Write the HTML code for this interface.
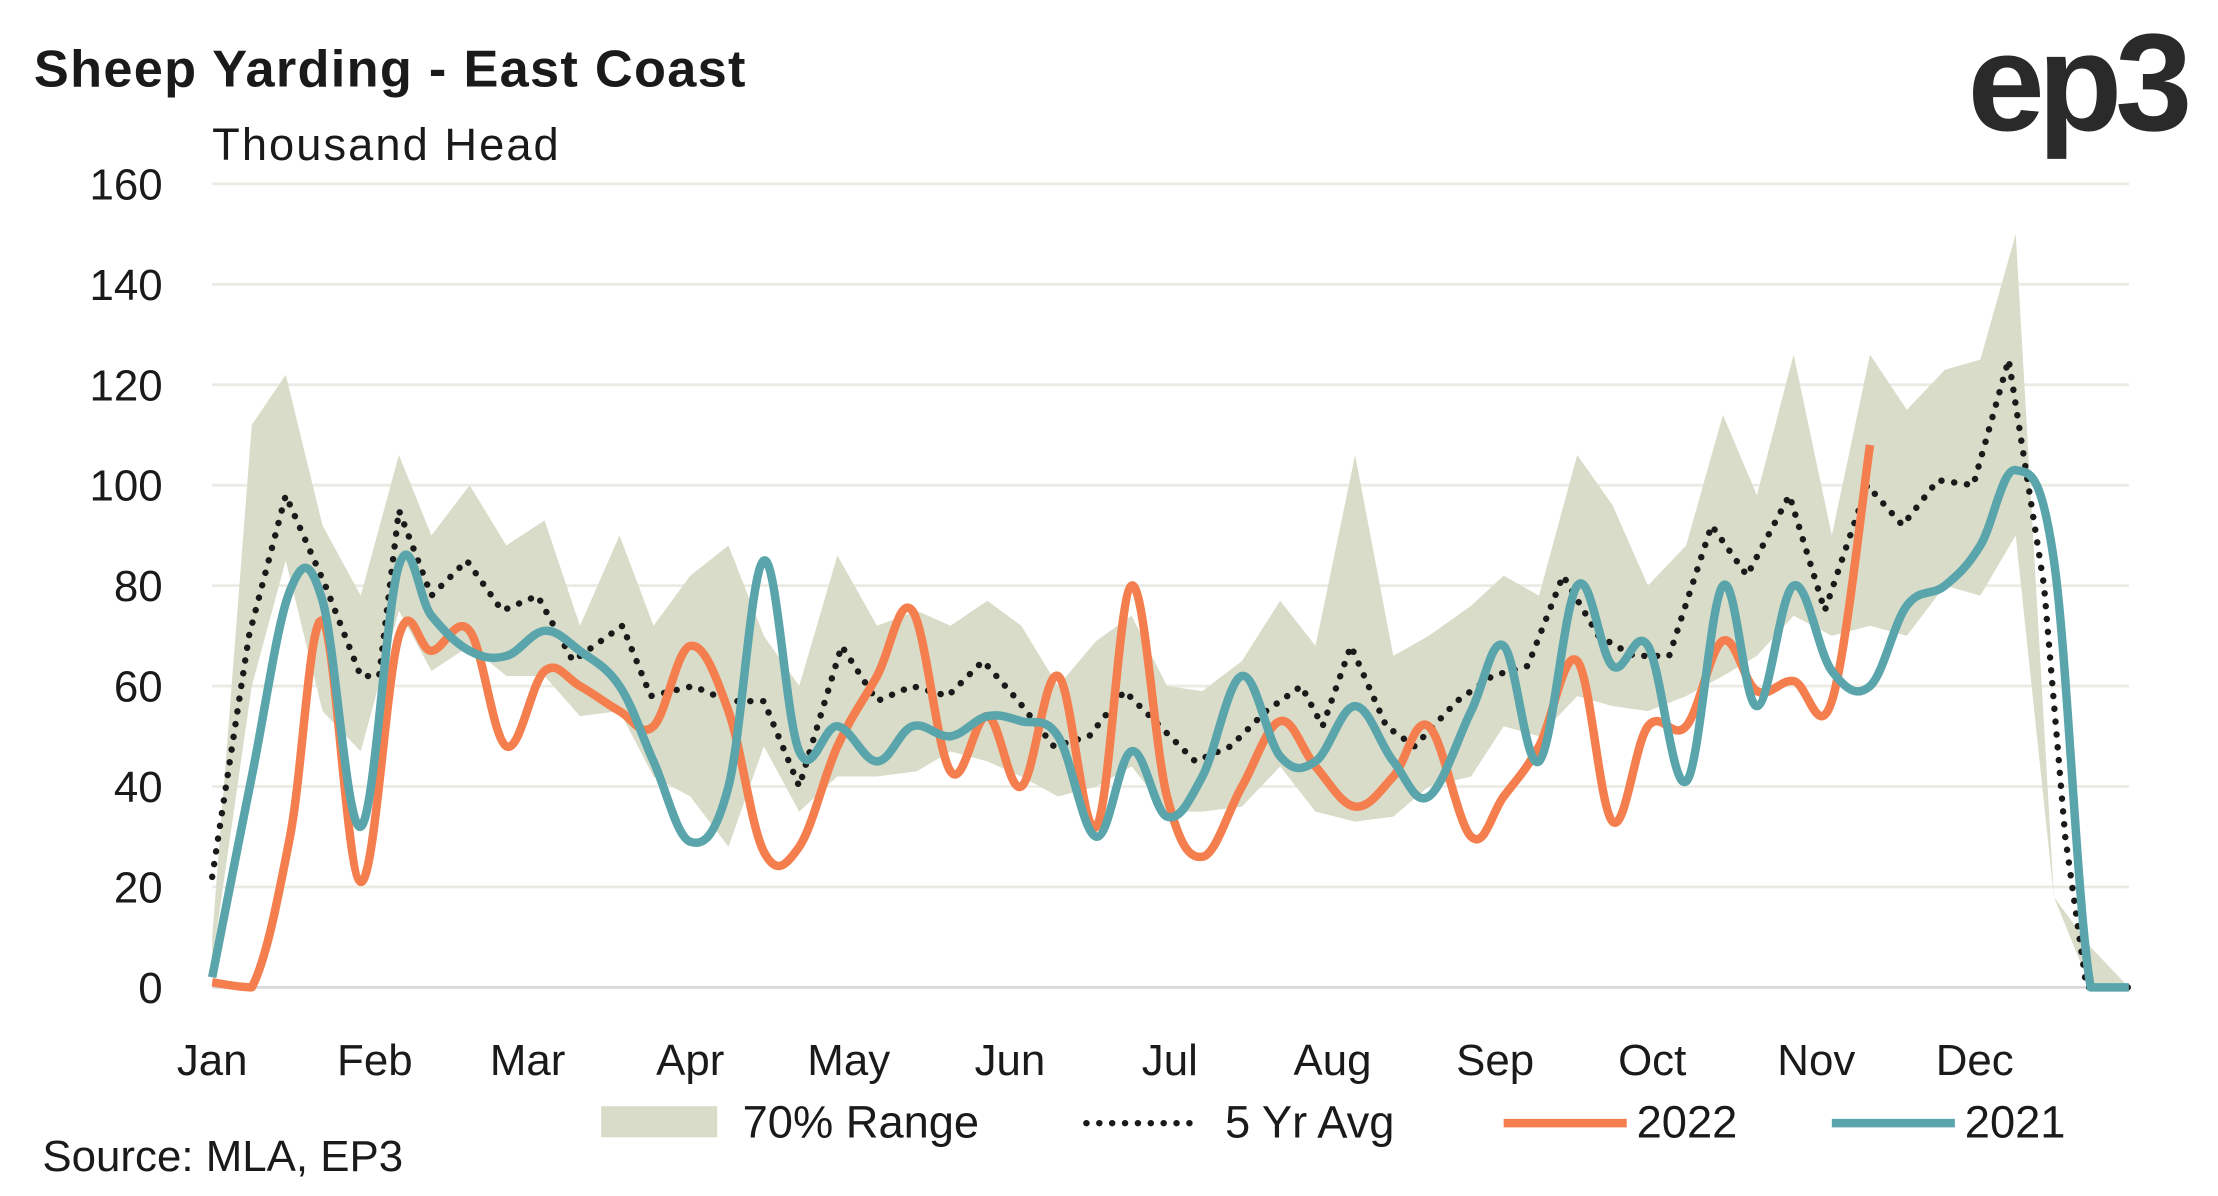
<!DOCTYPE html>
<html><head><meta charset="utf-8"><style>
html,body{margin:0;padding:0;background:#fff;}
svg{display:block;}
text{font-family:"Liberation Sans",sans-serif;fill:#1a1a1a;}
</style></head><body>
<svg id="s" width="2218" height="1196" viewBox="0 0 1568 845.5" preserveAspectRatio="none" xmlns="http://www.w3.org/2000/svg">
<rect width="1568" height="846" fill="#fff"/>
<g id="grid"></g>
<path id="band" fill="#d9dcc8"/>
<line x1="150" y1="698" x2="1505" y2="698" stroke="#d8d8d8" stroke-width="2"/>
<path id="avg" fill="none" stroke="#1a1a1a" stroke-width="4.5" stroke-dasharray="0.1 9" stroke-linecap="round"/>
<path id="o" fill="none" stroke="#f47e4e" stroke-width="6" stroke-linejoin="round"/>
<path id="t" fill="none" stroke="#5aa5ab" stroke-width="6" stroke-linejoin="round"/>
<text x="24" y="61" font-size="37" font-weight="bold" textLength="503">Sheep Yarding - East Coast</text>
<text x="150" y="113" font-size="32" textLength="245">Thousand Head</text>
<text x="1391" y="92" font-size="98" font-weight="bold" letter-spacing="-5" style="fill:#2a2a2a">ep3</text>
<g id="yl" font-size="31" text-anchor="end"></g>
<g font-size="31" text-anchor="middle">
<text x="150" y="760">Jan</text><text x="265" y="760">Feb</text><text x="373" y="760">Mar</text><text x="488" y="760">Apr</text><text x="600" y="760">May</text><text x="714" y="760">Jun</text><text x="827" y="760">Jul</text><text x="942" y="760">Aug</text><text x="1057" y="760">Sep</text><text x="1168" y="760">Oct</text><text x="1284" y="760">Nov</text><text x="1396" y="760">Dec</text>
</g>
<text x="30" y="828" font-size="31">Source: MLA, EP3</text>
<rect x="425" y="782" width="82" height="22" fill="#d9dcc8"/>
<text x="525" y="804" font-size="32">70% Range</text>
<line x1="768" y1="794" x2="846" y2="794" stroke="#1a1a1a" stroke-width="4.5" stroke-dasharray="0.1 9" stroke-linecap="round"/>
<text x="866" y="804" font-size="32">5 Yr Avg</text>
<line x1="1063" y1="794" x2="1150" y2="794" stroke="#f47e4e" stroke-width="6"/>
<text x="1157" y="804" font-size="32">2022</text>
<line x1="1295" y1="794" x2="1382" y2="794" stroke="#5aa5ab" stroke-width="6"/>
<text x="1389" y="804" font-size="32">2021</text>
</svg>
<script>
const Y=v=>698-v*3.55;
const NS="http://www.w3.org/2000/svg";
let g=document.getElementById('grid'),yl=document.getElementById('yl');
for(let v=20;v<=160;v+=20){let l=document.createElementNS(NS,'line');l.setAttribute('x1',150);l.setAttribute('x2',1505);l.setAttribute('y1',Y(v));l.setAttribute('y2',Y(v));l.setAttribute('stroke','#ebebe3');l.setAttribute('stroke-width',2);g.appendChild(l);}
for(let v=0;v<=160;v+=20){let t=document.createElementNS(NS,'text');t.setAttribute('x',115);t.setAttribute('y',Y(v)+11);t.textContent=v;yl.appendChild(t);}
function P(a){return a.map(v=>[v[0],Y(v[1])]);}
const C=y=>Math.min(y,698);
function smooth(pts){let d='M'+pts[0][0]+','+pts[0][1];for(let i=0;i<pts.length-1;i++){let p0=pts[i-1]||pts[i],p1=pts[i],p2=pts[i+1],p3=pts[i+2]||p2;let k=0.18;d+=' C'+(p1[0]+(p2[0]-p0[0])*k)+','+C(p1[1]+(p2[1]-p0[1])*k)+' '+(p2[0]-(p3[0]-p1[0])*k)+','+C(p2[1]-(p3[1]-p1[1])*k)+' '+p2[0]+','+p2[1];}return d;}
function lin(pts){return pts.map((p,i)=>(i?'L':'M')+p[0]+','+p[1]).join(' ');}
const avg=[[150,22],[176,70],[202,98],[230,80],[255,62],[268,62],[282,95],[305,78],[330,85],[355,75],[380,78],[405,65],[440,72],[460,58],[490,60],[515,57],[540,57],[565,40],[595,68],[620,57],[645,60],[670,58],[695,65],[720,57],[745,48],[770,50],[795,59],[820,52],[845,45],[870,48],[895,55],[920,60],[935,52],[955,68],[980,52],[1000,48],[1030,57],[1055,62],[1080,64],[1105,82],[1130,70],[1155,66],[1180,66],[1210,92],[1235,82],[1265,98],[1290,75],[1320,100],[1345,92],[1370,101],[1395,100],[1420,125],[1445,80],[1460,30],[1475,0],[1505,0]];
const up=[[150,10],[178,112],[202,122],[228,92],[255,78],[282,106],[305,90],[332,100],[358,88],[385,93],[410,72],[438,90],[462,72],[488,82],[515,88],[540,70],[565,60],[592,86],[620,72],[648,75],[672,72],[698,77],[722,72],[748,60],[775,69],[800,74],[825,60],[850,59],[878,65],[905,77],[930,68],[958,106],[985,66],[1010,70],[1040,76],[1063,82],[1088,78],[1115,106],[1140,96],[1165,80],[1192,88],[1218,114],[1242,98],[1268,126],[1295,90],[1322,126],[1348,115],[1375,123],[1400,125],[1425,150],[1452,18],[1478,8],[1505,0]];
const lo=[[150,5],[178,60],[202,85],[228,55],[255,47],[282,75],[305,63],[332,68],[358,62],[385,62],[410,54],[438,55],[462,42],[488,38],[515,28],[540,48],[565,35],[592,42],[620,42],[648,43],[672,47],[698,45],[722,42],[748,38],[775,40],[800,44],[825,35],[850,35],[878,36],[905,44],[930,35],[958,33],[985,34],[1010,40],[1040,42],[1063,52],[1088,50],[1115,58],[1140,56],[1165,55],[1192,58],[1218,62],[1242,66],[1268,74],[1295,70],[1322,72],[1348,70],[1375,80],[1400,78],[1425,90],[1452,18],[1478,0],[1505,0]];
const o=[[150,1],[178,0],[205,30],[228,73],[255,21],[282,70],[305,67],[332,71],[358,48],[385,63],[410,60],[438,55],[462,52],[488,68],[515,55],[540,27],[565,28],[592,48],[620,62],[645,75],[672,43],[698,54],[722,40],[748,62],[775,32],[800,80],[825,38],[850,26],[878,40],[905,53],[930,44],[958,36],[985,42],[1010,52],[1040,30],[1063,38],[1088,48],[1115,65],[1140,33],[1165,52],[1192,52],[1218,69],[1242,59],[1268,61],[1295,57],[1322,108]];
const t=[[150,2],[178,42],[205,79],[228,77],[255,32],[282,84],[305,74],[332,67],[358,66],[385,71],[410,67],[438,60],[462,45],[488,29],[515,40],[540,85],[565,47],[592,52],[620,45],[645,52],[672,50],[698,54],[722,53],[748,50],[775,30],[800,47],[825,34],[850,42],[878,62],[905,46],[930,45],[958,56],[985,45],[1010,38],[1040,55],[1063,68],[1088,45],[1115,80],[1140,64],[1165,68],[1192,41],[1218,80],[1242,56],[1268,80],[1295,63],[1322,60],[1348,76],[1375,80],[1400,88],[1425,103],[1452,85],[1478,0],[1505,0]];
let U=P(up),L=P(lo).reverse();
document.getElementById('band').setAttribute('d',lin(U)+' '+L.map(p=>'L'+p[0]+','+p[1]).join(' ')+'Z');
document.getElementById('avg').setAttribute('d',lin(P(avg)));
document.getElementById('o').setAttribute('d',smooth(P(o)));
document.getElementById('t').setAttribute('d',smooth(P(t)));
</script>
</body></html>
